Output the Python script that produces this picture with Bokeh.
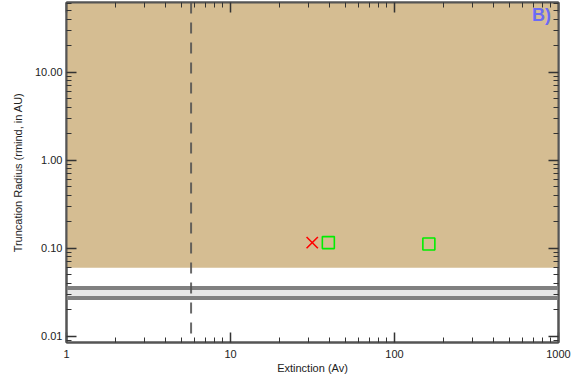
from bokeh.plotting import figure
from bokeh.models import (LogAxis, FixedTicker, CustomJSTickFormatter, BoxAnnotation,
                          Span, Label, Range1d)
from bokeh.embed import file_html
from bokeh.resources import INLINE

# ---- data ----
x_range_vals = [1, 1000]
y_range_vals = [0.0085, 62]
x_major = [1, 10, 100, 1000]
y_major = [0.01, 0.1, 1, 10]
x_minor = [m * d for d in [1, 10, 100] for m in range(2, 10)]
y_minor = [m * d for d in [0.001, 0.01, 0.1, 1, 10] for m in range(2, 10)]

allowed_bottom = [0.06]          # lower edge of tan region
band_low = [0.0272]
band_high = [0.0354]
av_limit = [5.75]                # dashed vertical line

x_av = [31.5]
x_r = [0.116]
sq_av = [39.5, 162]
sq_r = [0.116, 0.112]

panel_label = "B)"
panel_label_pos = [690, 34]

FONT = "Liberation Sans"
TXT = "#222222"
AX = "#555555"

p = figure(width=584, height=383, x_axis_type="log", y_axis_type="log",
           x_range=Range1d(*x_range_vals), y_range=Range1d(*y_range_vals),
           output_backend="svg", toolbar_location=None,
           min_border_left=66, min_border_right=26, min_border_top=2, min_border_bottom=41,
           background_fill_color="white", border_fill_color="white")
p.grid.visible = False
p.outline_line_color = AX
p.outline_line_width = 2

# regions
p.add_layout(BoxAnnotation(bottom=allowed_bottom[0], fill_color="#D5BD92", fill_alpha=1.0,
                           line_color=None, level="underlay"))
p.add_layout(BoxAnnotation(bottom=band_low[0], top=band_high[0], fill_color="#E6E6E6",
                           fill_alpha=1.0, line_color=None, level="underlay"))
for v in band_low + band_high:
    p.add_layout(Span(location=v, dimension="width", line_color="#808080", line_width=4))
p.add_layout(Span(location=av_limit[0], dimension="height", line_color="#505050",
                  line_width=2, line_dash="11 9", line_alpha=0.85))

p.scatter(x_av, x_r, marker="x", size=16, line_color="#FF0000", line_width=1.6)
p.scatter(sq_av, sq_r, marker="square", size=12, fill_color=None, line_color="#00EE00",
          line_width=1.6)

p.add_layout(Label(x=panel_label_pos[0], y=panel_label_pos[1], text=panel_label,
                   text_color="#6B6BF5", text_font=FONT, text_font_style="bold",
                   text_font_size="18px", text_baseline="bottom"))


def style(ax, ticks, minors, labels=True, fmt=None):
    ax.ticker = FixedTicker(ticks=ticks, minor_ticks=minors)
    ax.axis_line_color = AX
    ax.axis_line_width = 2
    ax.major_tick_in = 10
    ax.major_tick_out = 0
    ax.minor_tick_in = 5
    ax.minor_tick_out = 0
    ax.major_tick_line_color = "#333333"
    ax.minor_tick_line_color = "#333333"
    ax.major_tick_line_width = 1.5
    ax.minor_tick_line_width = 1
    if labels:
        ax.major_label_text_font = FONT
        ax.major_label_text_font_size = "11px"
        ax.major_label_text_color = TXT
        ax.axis_label_text_font = FONT
        ax.axis_label_text_font_size = "11px"
        ax.axis_label_text_font_style = "normal"
        ax.axis_label_text_color = TXT
        if fmt:
            ax.formatter = CustomJSTickFormatter(code=fmt)
    else:
        ax.major_label_text_font_size = "1px"
        ax.major_label_text_alpha = 0
        ax.major_label_standoff = 0
        ax.formatter = CustomJSTickFormatter(code="return ' ';")


xa = p.xaxis[0]
style(xa, x_major, x_minor, fmt="return tick.toFixed(0);")
xa.axis_label = "Extinction (Av)"
xa.major_label_standoff = 7
xa.axis_label_standoff = 1

ya = p.yaxis[0]
style(ya, y_major, y_minor, fmt="return tick.toFixed(2);")
ya.axis_label = "Truncation Radius (rmind, in AU)"
ya.major_label_standoff = 4
ya.axis_label_standoff = 8

ra = LogAxis()
style(ra, y_major, y_minor, labels=False)
p.add_layout(ra, "right")
ta = LogAxis()
style(ta, x_major, x_minor, labels=False)
p.add_layout(ta, "above")

open("out.html", "w").write(file_html(p, INLINE))
